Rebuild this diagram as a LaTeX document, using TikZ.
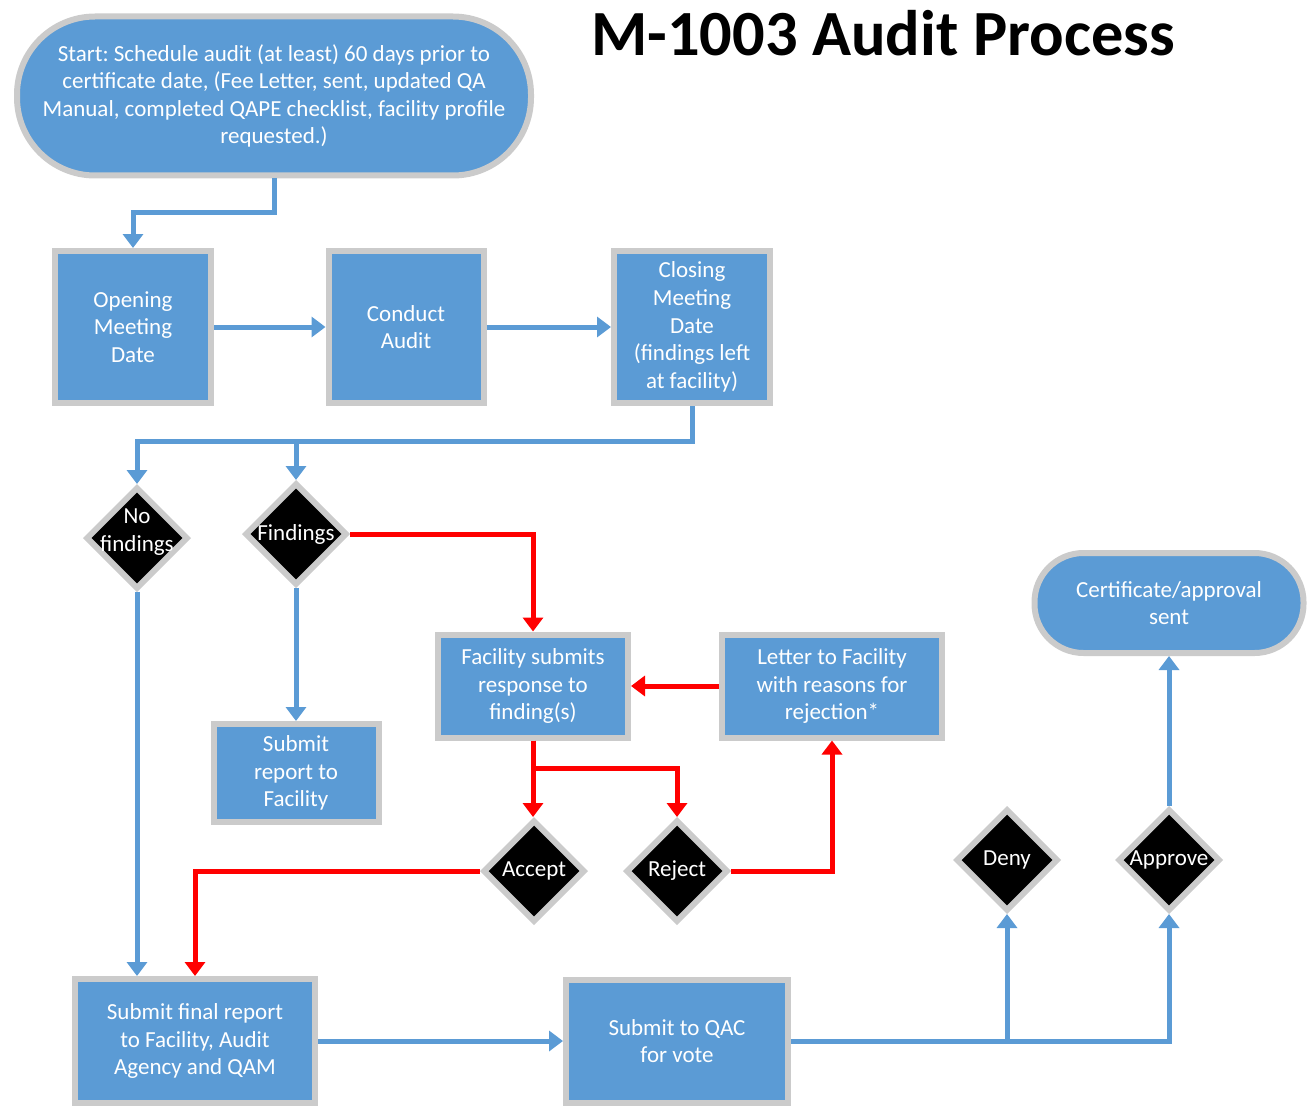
\documentclass[tikz,border=0pt]{standalone}
\usepackage{fontspec}
\setmainfont{Carlito}
\frenchspacing
\usetikzlibrary{shapes.geometric,arrows.meta}

\definecolor{boxblue}{HTML}{5B9BD5}
\definecolor{rimgray}{HTML}{CBCBCB}
\definecolor{flowred}{HTML}{FF0000}

\tikzstyle{procbox}=[draw=rimgray,fill=boxblue,line width=3pt,text=white,align=center,font=\fontsize{11.5}{13.8}\selectfont,inner sep=2pt]
\tikzstyle{choice}=[diamond,aspect=1,draw=rimgray,fill=black,line width=3pt,minimum width=51pt,minimum height=51pt,inner sep=0pt]
\tikzstyle{choicetext}=[text=white,align=center,font=\fontsize{11.5}{13.8}\selectfont]
\tikzstyle{bluearrow}=[draw=boxblue,line width=2.5pt,-{Triangle[width=10pt,length=7pt]}]
\tikzstyle{redarrow}=[draw=flowred,line width=2.5pt,-{Triangle[width=10pt,length=7pt]}]

\begin{document}
\begin{tikzpicture}[x=0.5pt,y=-0.5pt]
\useasboundingbox (0,0) rectangle (1315,1107);
% Title and start
   \node (title) at (883,33) {\fontsize{32.2}{38}\selectfont\bfseries M-1003 Audit Process};
   \node[procbox,rounded corners=39pt,minimum width=257pt,minimum height=79.5pt] (start) at (274,96)
{Start: Schedule audit (at least) 60 days prior to\\certificate date, (Fee Letter, sent, updated QA\\Manual, completed QAPE checklist, facility profile\\requested.)};

% Meeting row
   \node[procbox,minimum width=78pt,minimum height=76pt] (opening) at (133,327) {Opening\\Meeting\\Date};
   \node[procbox,minimum width=77.5pt,minimum height=76pt] (conduct) at (406,327) {Conduct\\Audit};
   \node[procbox,minimum width=78pt,minimum height=76pt] (closing) at (692,327) {Closing\\Meeting\\Date\\(findings left\\at facility)};

% Findings decisions
   \node[choice,label={[choicetext,yshift=3pt]center:No\\findings}] (nofind) at (137,538) {};
   \node[choice,label={[choicetext]center:Findings}] (findings) at (296,534) {};
   \node[procbox,minimum width=82.5pt,minimum height=49pt] (report) at (296,773) {Submit\\report to\\Facility};
   \node[procbox,minimum width=95pt,minimum height=51.5pt] (response) at (533,686) {Facility submits\\response to\\finding(s)};
   \node[procbox,minimum width=110pt,minimum height=51.5pt] (letter) at (832,686) {Letter to Facility\\with reasons for\\rejection*};
   \node[choice,label={[choicetext]center:Accept}] (accept) at (534,871) {};
   \node[choice,label={[choicetext]center:Reject}] (reject) at (677,871) {};

% Final report and vote
   \node[procbox,minimum width=120pt,minimum height=62pt] (final) at (195,1041) {Submit final report\\to Facility, Audit\\Agency and QAM};
   \node[procbox,minimum width=111pt,minimum height=61.5pt] (qac) at (677,1041) {Submit to QAC\\for vote};
   \node[choice,label={[choicetext]center:Deny}] (deny) at (1007,860) {};
   \node[choice,label={[choicetext]center:Approve}] (approve) at (1169,860) {};
   \node[procbox,rounded corners=24.5pt,minimum width=134.5pt,minimum height=50pt] (cert) at (1169,603) {Certificate/approval\\sent};

% Blue flow
   \draw[bluearrow] (start.south) -- ++(0,34) -| (opening.north);
   \draw[bluearrow] (opening) -- (conduct);
   \draw[bluearrow] (conduct) -- (closing);
   \draw[bluearrow] (closing.south) -- ++(0,35) coordinate (split) -| (nofind.north);
   \draw[bluearrow] (split -| findings.north) -- (findings.north);
   \draw[bluearrow] (findings.south) -- (report.north);
   \draw[bluearrow] (nofind.south) -- (nofind.south |- final.north);
   \draw[bluearrow] (final) -- (qac);
   \draw[bluearrow] (qac.east) -| (approve.south);
   \draw[bluearrow] (qac.east -| deny.south) -- (deny.south);
   \draw[bluearrow] (approve.north) -- (cert.south);

% Red flow
   \draw[redarrow] (findings.east) -| (response.north);
   \draw[redarrow] (letter.west) -- (response.east);
   \draw[redarrow] (response.south) -- (response.south |- accept.north);
   \draw[redarrow] (response.south) -- ++(0,28) coordinate (rsplit) -| (reject.north);
   \draw[redarrow] (reject.east) -| (letter.south);
   \draw[redarrow] (accept.west) -| (final.north);

\end{tikzpicture}
\end{document}
